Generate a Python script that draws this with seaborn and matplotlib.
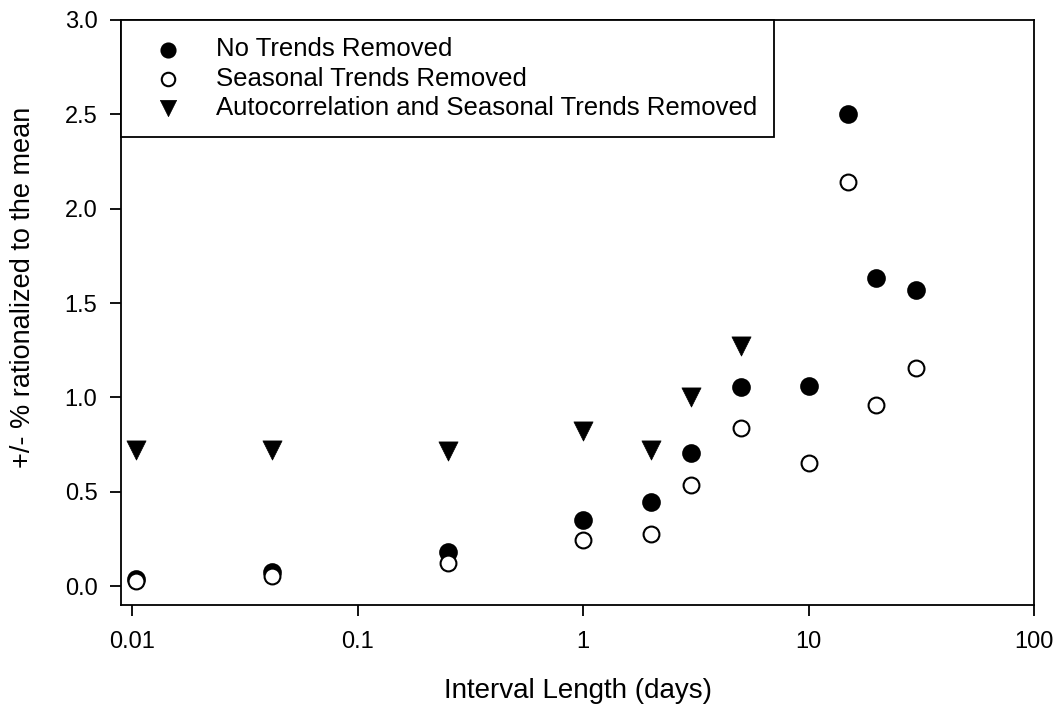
import numpy as np
import pandas as pd
import matplotlib
matplotlib.use("Agg")
import matplotlib.pyplot as plt
import seaborn as sns

interval_days = [1/96, 1/24, 0.25, 1, 2, 3, 5, 10, 15, 20, 30]
no_trends = [0.04, 0.074, 0.18, 0.35, 0.445, 0.705, 1.055, 1.06, 2.50, 1.635, 1.57]
seasonal = [0.027, 0.053, 0.122, 0.245, 0.278, 0.537, 0.84, 0.652, 2.14, 0.96, 1.155]
auto_interval = [1/96, 1/24, 0.25, 1, 2, 3, 5]
auto_seasonal = [0.72, 0.72, 0.715, 0.82, 0.72, 1.0, 1.27]

labels = ["No Trends Removed", "Seasonal Trends Removed",
          "Autocorrelation and Seasonal Trends Removed"]
xticks = [0.01, 0.1, 1, 10, 100]
xticklabels = ["0.01", "0.1", "1", "10", "100"]
yticks = [0.0, 0.5, 1.0, 1.5, 2.0, 2.5, 3.0]

df1 = pd.DataFrame({"x": interval_days, "y": no_trends})
df2 = pd.DataFrame({"x": interval_days, "y": seasonal})
df3 = pd.DataFrame({"x": auto_interval, "y": auto_seasonal})

sns.set_theme(style="white")
plt.rcParams["font.family"] = ["Liberation Sans", "DejaVu Sans"]
plt.rcParams["text.color"] = "black"
plt.rcParams["axes.labelcolor"] = "black"

fig = plt.figure(figsize=(10.6, 7.06), dpi=100)
ax = fig.add_axes([0.1142, 0.1431, 0.8613, 0.8286])

sns.scatterplot(data=df1, x="x", y="y", ax=ax, marker="o", s=150,
                color="black", edgecolor="black", linewidth=1.2, label=labels[0])
sns.scatterplot(data=df2, x="x", y="y", ax=ax, marker="o", s=130,
                facecolor="white", edgecolor="black", linewidth=1.5, label=labels[1])
sns.scatterplot(data=df3, x="x", y="y", ax=ax, marker="v", s=190,
                color="black", edgecolor="black", linewidth=0.5, label=labels[2])

ax.set_xscale("log")
ax.set_xlim(0.0089, 100)
ax.set_ylim(-0.10, 3.0)
ax.set_xticks(xticks)
ax.set_xticklabels(xticklabels)
ax.set_yticks(yticks)
ax.set_yticklabels([f"{v:.1f}" for v in yticks])
ax.xaxis.set_minor_locator(matplotlib.ticker.NullLocator())

for sp in ax.spines.values():
    sp.set_color("black")
    sp.set_linewidth(1.3)
ax.tick_params(axis="both", which="major", direction="out", length=8, width=1.3,
               color="black", labelsize=17, labelcolor="black",
               bottom=True, left=True, top=False, right=False)
ax.tick_params(axis="x", pad=11)
ax.tick_params(axis="y", pad=9)

ax.set_xlabel("Interval Length (days)", fontsize=20, color="black")
ax.set_ylabel("+/- % rationalized to the mean", fontsize=19.5, color="black")
ax.xaxis.set_label_coords(0.5, -0.124)
ax.yaxis.set_label_coords(-0.093, 0.5436)

leg = ax.legend(loc="upper left", bbox_to_anchor=(0.0, 1.0), fontsize=18.5,
                frameon=True, fancybox=False, borderaxespad=0,
                handletextpad=0.7, borderpad=0.68, labelspacing=0.2,
                markerscale=0.85, handlelength=2.3)
for t in leg.get_texts():
    t.set_color("black")
frame = leg.get_frame()
frame.set_edgecolor("black")
frame.set_linewidth(1.3)
frame.set_alpha(1)

fig.savefig("out.png", dpi=100)
